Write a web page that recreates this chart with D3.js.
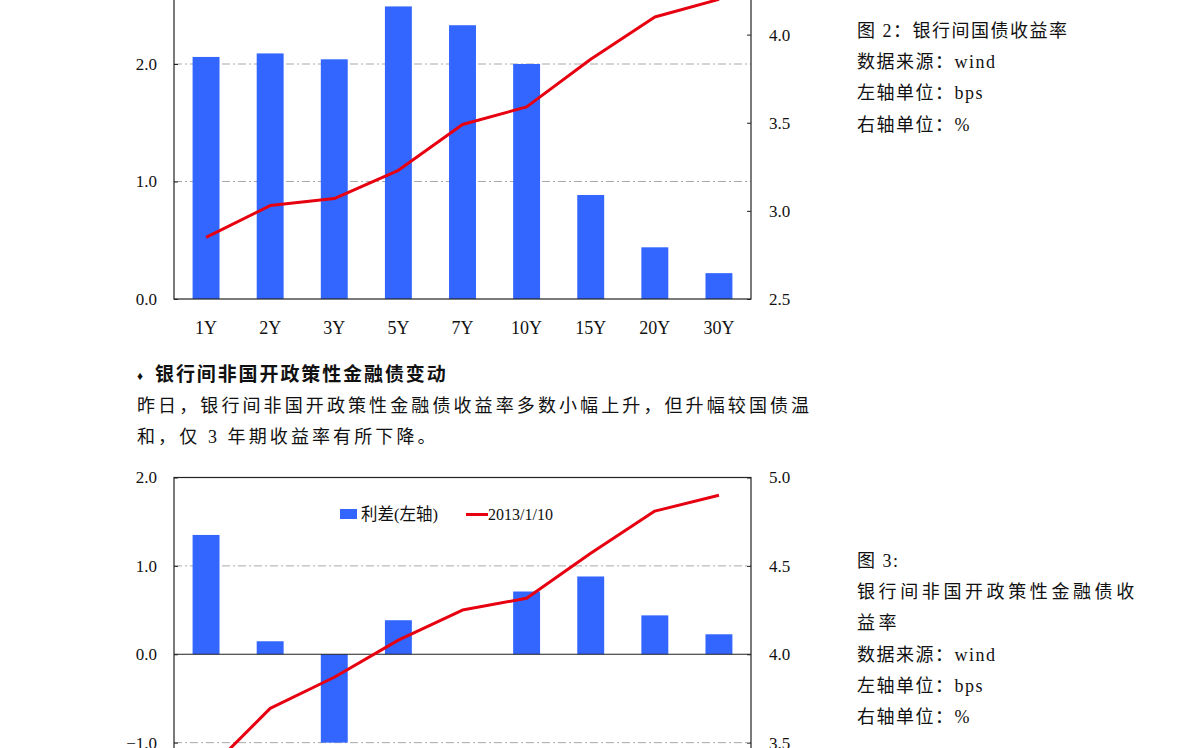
<!DOCTYPE html>
<html>
<head>
<meta charset="utf-8">
<script src="https://cdn.jsdelivr.net/npm/d3@7/dist/d3.min.js"></script>
<style>
  html, body { margin: 0; padding: 0; background: #fff; }
  svg { display: block; }
</style>
</head>
<body>
<svg id="page" width="1191" height="748"></svg>
<script>
// ---------- data ----------
const categories = ["1Y", "2Y", "3Y", "5Y", "7Y", "10Y", "15Y", "20Y", "30Y"];

// chart 2: 银行间国债收益率
const govSpread = [2.06, 2.09, 2.04, 2.49, 2.33, 2.00, 0.885, 0.44, 0.22];
const govYield  = [2.85, 3.03, 3.07, 3.23, 3.49, 3.59, 3.86, 4.10, 4.20];
const govLeftTicks  = [0.0, 1.0, 2.0];
const govRightTicks = [2.5, 3.0, 3.5, 4.0];

// chart 3: 银行间非国开政策性金融债收益率
const pfSpread = [1.35, 0.147, -1.00, 0.385, 0.0, 0.71, 0.88, 0.44, 0.226];
const pfYield  = [3.33, 3.694, 3.87, 4.08, 4.25, 4.317, 4.572, 4.81, 4.90];
const pfLeftTicks  = [-1.0, 0.0, 1.0, 2.0];
const pfRightTicks = [3.5, 4.0, 4.5, 5.0];
const legendLabels = ["利差(左轴)", "2013/1/10"];

const note2 = ["图 2：银行间国债收益率", "数据来源：wind", "左轴单位：bps", "右轴单位：%"];
const note3 = ["图 3:", "银行间非国开政策性金融债收", "益率", "数据来源：wind", "左轴单位：bps", "右轴单位：%"];
const heading = "银行间非国开政策性金融债变动";
const paragraph = ["昨日，银行间非国开政策性金融债收益率多数小幅上升，但升幅较国债温", "和，仅 3 年期收益率有所下降。"];

// ---------- drawing ----------
const svg = d3.select("#page");
svg.append("rect").attr("width", 1191).attr("height", 748).attr("fill", "#fff");

const BAR = "#3366ff", LINE = "#e60010";
const FONT = '"Liberation Serif", "Noto Sans CJK SC", serif';

function drawChart(opts) {
  const { left, right, top, bottom, lDomain, rDomain, lTicks, rTicks, spread, yld, zeroAxis, showCats } = opts;
  const g = svg.append("g");
  const x = d3.scaleBand().domain(categories).range([left, right]).paddingInner(0.58).paddingOuter(0.29);
  const yL = d3.scaleLinear().domain(lDomain).range([bottom, top]);
  const yR = d3.scaleLinear().domain(rDomain).range([bottom, top]);

  // gridlines (dash-dot)
  g.selectAll("line.grid").data(lTicks.filter(t => t !== lDomain[0] && t !== lDomain[1] && t !== 0))
    .join("line").attr("class", "grid")
    .attr("x1", left).attr("x2", right)
    .attr("y1", d => yL(d)).attr("y2", d => yL(d))
    .attr("stroke", "#a8a8a8").attr("stroke-width", 1)
    .attr("stroke-dasharray", "8,3,2,3");

  // bars
  g.selectAll("rect.bar").data(categories)
    .join("rect").attr("class", "bar")
    .attr("x", d => x(d))
    .attr("width", x.bandwidth())
    .attr("y", (d, i) => Math.min(yL(spread[i]), yL(0)))
    .attr("height", (d, i) => Math.abs(yL(spread[i]) - yL(0)))
    .attr("fill", BAR);

  // frame
  g.append("rect").attr("x", left).attr("y", top).attr("width", right - left).attr("height", bottom - top)
    .attr("fill", "none").attr("stroke", "#222").attr("stroke-width", 1.2);
  if (zeroAxis) {
    g.append("line").attr("x1", left).attr("x2", right).attr("y1", yL(0)).attr("y2", yL(0))
      .attr("stroke", "#222").attr("stroke-width", 1.2);
  }

  // left axis
  const la = g.append("g").attr("transform", `translate(${left},0)`)
    .call(d3.axisLeft(yL).tickValues(lTicks).tickFormat(d3.format(".1f")).tickSize(-4).tickPadding(17));
  la.select(".domain").remove();
  la.selectAll("line").attr("stroke", "#222");
  la.selectAll("text").attr("font-family", FONT).attr("font-size", 17).attr("fill", "#111");

  // right axis
  const ra = g.append("g").attr("transform", `translate(${right},0)`)
    .call(d3.axisRight(yR).tickValues(rTicks).tickFormat(d3.format(".1f")).tickSize(-4).tickPadding(18));
  ra.select(".domain").remove();
  ra.selectAll("line").attr("stroke", "#222");
  ra.selectAll("text").attr("font-family", FONT).attr("font-size", 17).attr("fill", "#111");

  // category labels
  if (showCats) {
    g.selectAll("text.cat").data(categories).join("text").attr("class", "cat")
      .attr("x", d => x(d) + x.bandwidth() / 2).attr("y", bottom + 35)
      .attr("text-anchor", "middle").attr("font-family", FONT).attr("font-size", 18).attr("fill", "#111")
      .text(d => d);
  }

  // line
  const line = d3.line().x((d, i) => x(categories[i]) + x.bandwidth() / 2).y(d => yR(d));
  g.append("path").datum(yld).attr("d", line)
    .attr("fill", "none").attr("stroke", LINE).attr("stroke-width", 3).attr("stroke-linejoin", "round");
  return { x, yL, yR, g };
}

// chart 2 (top, partially above the view)
drawChart({ left: 174, right: 751, top: -53.5, bottom: 299,
  lDomain: [0, 3], rDomain: [2.5, 4.5], lTicks: govLeftTicks, rTicks: govRightTicks,
  spread: govSpread, yld: govYield, zeroAxis: false, showCats: true });

// chart 3 (bottom, partially below the view)
drawChart({ left: 174, right: 751, top: 477.5, bottom: 831,
  lDomain: [-2, 2], rDomain: [3, 5], lTicks: pfLeftTicks, rTicks: pfRightTicks,
  spread: pfSpread, yld: pfYield, zeroAxis: true, showCats: false });

// legend of chart 3
const lg = svg.append("g");
lg.append("rect").attr("x", 340).attr("y", 509).attr("width", 17).attr("height", 10).attr("fill", BAR);
lg.append("text").attr("x", 361).attr("y", 520).attr("font-family", FONT).attr("font-size", 16.5).attr("fill", "#111").text(legendLabels[0]);
lg.append("line").attr("x1", 466).attr("x2", 488).attr("y1", 514.5).attr("y2", 514.5).attr("stroke", LINE).attr("stroke-width", 3);
lg.append("text").attr("x", 488).attr("y", 520).attr("font-family", FONT).attr("font-size", 16).attr("fill", "#111").text(legendLabels[1]);

// side notes
function notes(lines, y0, spacingFor) {
  svg.append("g").selectAll("text").data(lines).join("text")
    .attr("x", 857).attr("y", (d, i) => y0 + i * 31.2)
    .attr("font-family", FONT).attr("font-size", 18).attr("fill", "#111")
    .attr("letter-spacing", (d, i) => spacingFor(i))
    .text(d => d);
}
notes(note2, 37, () => 1.5);
notes(note3, 567, i => (i === 1 || i === 2) ? 3.6 : 1.5);

// heading & paragraph
svg.append("text").attr("x", 137).attr("y", 380).attr("font-family", FONT).attr("font-size", 12).attr("fill", "#111").text("♦");
svg.append("text").attr("x", 155).attr("y", 381).attr("font-family", '"Noto Sans CJK SC", sans-serif')
  .attr("font-size", 19).attr("font-weight", "bold").attr("letter-spacing", 1.9).attr("fill", "#111").text(heading);
svg.append("g").selectAll("text").data(paragraph).join("text")
  .attr("x", 137).attr("y", (d, i) => 412 + i * 31)
  .attr("font-family", FONT).attr("font-size", 18).attr("letter-spacing", 3.1).attr("fill", "#111")
  .text(d => d);
</script>
</body>
</html>
